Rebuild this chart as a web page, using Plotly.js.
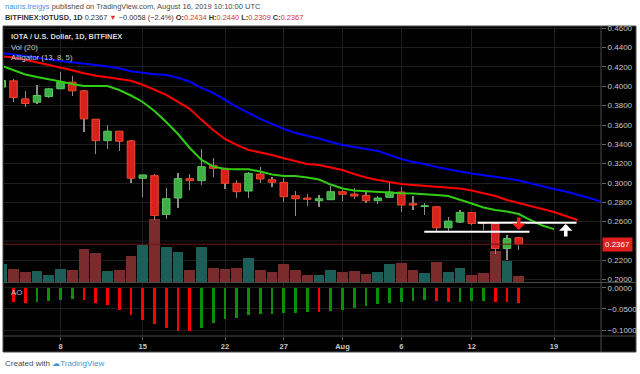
<!DOCTYPE html>
<html>
<head>
<meta charset="utf-8">
<script src="https://cdn.plot.ly/plotly-3.0.1.min.js"></script>
<style>
html,body{margin:0;padding:0;background:#fff;}
#chart{width:640px;height:374px;}
</style>
</head>
<body>
<div id="chart"></div>
<script>
// ---------- DATA ----------
const dates = ['2019-07-03','2019-07-04','2019-07-05','2019-07-06','2019-07-07','2019-07-08','2019-07-09','2019-07-10','2019-07-11','2019-07-12','2019-07-13','2019-07-14','2019-07-15','2019-07-16','2019-07-17','2019-07-18','2019-07-19','2019-07-20','2019-07-21','2019-07-22','2019-07-23','2019-07-24','2019-07-25','2019-07-26','2019-07-27','2019-07-28','2019-07-29','2019-07-30','2019-07-31','2019-08-01','2019-08-02','2019-08-03','2019-08-04','2019-08-05','2019-08-06','2019-08-07','2019-08-08','2019-08-09','2019-08-10','2019-08-11','2019-08-12','2019-08-13','2019-08-14','2019-08-15','2019-08-16'];
const futureDates = ['2019-08-17','2019-08-18','2019-08-19','2019-08-20','2019-08-21','2019-08-22','2019-08-23','2019-08-24'];

const openP  = [0.3992,0.4057,0.3870,0.3836,0.3894,0.3974,0.4043,0.3953,0.3660,0.3438,0.3536,0.3435,0.3049,0.3076,0.2675,0.2845,0.3045,0.3024,0.3179,0.3152,0.2997,0.2917,0.3093,0.3034,0.3007,0.2868,0.2845,0.2817,0.2827,0.2910,0.2886,0.2872,0.2817,0.2852,0.2907,0.2786,0.2758,0.2754,0.2537,0.2596,0.2696,0.2590,0.2582,0.2323,0.2434];
const highP  = [0.4075,0.4080,0.3953,0.4012,0.3980,0.4153,0.4102,0.3964,0.3663,0.3601,0.3540,0.3446,0.3085,0.3090,0.2948,0.3100,0.3093,0.3349,0.3256,0.3160,0.3031,0.3117,0.3163,0.3065,0.3049,0.2917,0.2886,0.2872,0.2969,0.2927,0.2945,0.2910,0.2865,0.2997,0.2962,0.2865,0.2796,0.2760,0.2644,0.2720,0.2700,0.2599,0.2585,0.2461,0.2440];
const lowP   = [0.3960,0.3842,0.3791,0.3822,0.3877,0.3970,0.3905,0.3532,0.3301,0.3349,0.3335,0.2997,0.2852,0.2617,0.2627,0.2738,0.2927,0.2979,0.3065,0.2935,0.2848,0.2848,0.3003,0.2962,0.2806,0.2658,0.2762,0.2755,0.2827,0.2817,0.2831,0.2796,0.2782,0.2841,0.2700,0.2720,0.2668,0.2495,0.2495,0.2590,0.2570,0.2513,0.2261,0.2202,0.2309];
const closeP = [0.4060,0.3884,0.3822,0.3905,0.3974,0.4043,0.3953,0.3663,0.3438,0.3536,0.3432,0.3049,0.3083,0.2665,0.2837,0.3045,0.3024,0.3169,0.3152,0.2997,0.2910,0.3100,0.3041,0.3007,0.2858,0.2837,0.2831,0.2837,0.2910,0.2883,0.2865,0.2817,0.2845,0.2907,0.2772,0.2772,0.2765,0.2537,0.2606,0.2696,0.2582,0.2585,0.2323,0.2425,0.2367];
const volume = [1.80,1.27,1.00,1.10,0.74,1.34,1.24,3.27,2.94,1.07,1.17,2.64,3.74,6.27,3.47,3.00,1.17,3.50,1.40,1.30,1.45,2.44,1.17,1.04,1.77,1.17,0.74,0.74,1.24,0.97,1.10,0.84,0.97,1.84,1.90,1.17,0.94,1.97,1.00,1.37,0.74,0.94,3.07,2.07,0.64];
const aoValues = [-0.0310,-0.0333,-0.0357,-0.0333,-0.0310,-0.0293,-0.0276,-0.0293,-0.0357,-0.0412,-0.0515,-0.0633,-0.0769,-0.0864,-0.0952,-0.1018,-0.1030,-0.0943,-0.0833,-0.0745,-0.0705,-0.0650,-0.0630,-0.0620,-0.0595,-0.0587,-0.0571,-0.0575,-0.0548,-0.0531,-0.0468,-0.0429,-0.0389,-0.0357,-0.0333,-0.0310,-0.0300,-0.0312,-0.0348,-0.0333,-0.0325,-0.0310,-0.0333,-0.0348,-0.0371];

// Alligator lines (already shifted forward: jaw +8, teeth +5, lips +3)
const jaw   = [0.4345,0.4330,0.4312,0.4295,0.4280,0.4262,0.4250,0.4236,0.4220,0.4205,0.4186,0.4155,0.4137,0.4126,0.4118,0.4088,0.4047,0.3984,0.3933,0.3860,0.3788,0.3725,0.3663,0.3611,0.3560,0.3518,0.3492,0.3461,0.3425,0.3394,0.3373,0.3352,0.3332,0.3290,0.3249,0.3218,0.3197,0.3166,0.3140,0.3119,0.3098,0.3083,0.3067,0.3047,0.3026,0.2995,0.2964,0.2938,0.2912,0.2881,0.2845,0.2808,0.2772];
const teeth = [0.4310,0.4298,0.4275,0.4249,0.4218,0.4192,0.4166,0.4135,0.4109,0.4093,0.4078,0.4057,0.4016,0.3964,0.3912,0.3839,0.3767,0.3653,0.3549,0.3456,0.3394,0.3342,0.3316,0.3290,0.3256,0.3223,0.3197,0.3187,0.3161,0.3135,0.3093,0.3057,0.3031,0.3010,0.2990,0.2979,0.2969,0.2959,0.2948,0.2943,0.2922,0.2896,0.2865,0.2824,0.2793,0.2767,0.2736,0.2700,0.2658,0.2617];
const lips  = [0.4212,0.4169,0.4122,0.4096,0.4075,0.4050,0.4024,0.4003,0.4003,0.4003,0.3962,0.3905,0.3838,0.3745,0.3631,0.3507,0.3362,0.3238,0.3171,0.3145,0.3142,0.3142,0.3119,0.3088,0.3073,0.3073,0.3057,0.3036,0.2984,0.2943,0.2922,0.2914,0.2907,0.2902,0.2893,0.2891,0.2886,0.2876,0.2865,0.2829,0.2788,0.2746,0.2720,0.2705,0.2679,0.2617,0.2560,0.2523];

const tickDates  = ['2019-07-08','2019-07-15','2019-07-22','2019-07-27','2019-08-01','2019-08-06','2019-08-12','2019-08-19'];
const tickLabels = ['8','15','22','27','Aug','6','12','19'];
// price scale labels visible in the picture (0.2400 is hidden behind the last-price tag)
const priceTicks = [0.46,0.44,0.42,0.40,0.38,0.36,0.34,0.32,0.30,0.28,0.26,0.22,0.20];
const priceGrid  = [0.46,0.44,0.42,0.40,0.38,0.36,0.34,0.32,0.30,0.28,0.26,0.24,0.22,0.20];
const aoTicks = [0, -0.05, -0.1];

// drawn annotations (horizontal levels and arrows)
const levelStart = ['2019-08-07 23:00','2019-08-12 12:00'];
const levelEnd   = ['2019-08-16 22:00','2019-08-20 22:00'];
const levelPrice = [0.2496, 0.2589];
const arrowDates = ['2019-08-16','2019-08-20'];
const arrowTips  = [0.2513, 0.2575];
const arrowDirs  = ['down','up'];

// ---------- BUILD ----------
const allLineDates = dates.concat(futureDates);
const UP = '#3daf45', UPB = '#5cc75f', DN = '#d8201c', DNB = '#ee4a2c';
const isUp = closeP.map((c,i)=> c >= openP[i]);
const day = 86400000;
const FONT = 'Liberation Sans, Arial, sans-serif';
const NARROW = 'Liberation Sans Narrow, Arial Narrow, Liberation Sans, sans-serif';

const traces = [];
traces.push({type:'bar', x:dates, y:volume, xaxis:'x', yaxis:'y', width:0.9*day,
  marker:{color:isUp.map(u=>u?'#1c5f58':'#7a2b2b'), line:{width:0}}, hoverinfo:'skip'});
traces.push({type:'bar', x:dates, base:lowP, y:highP.map((h,i)=>h-lowP[i]), xaxis:'x', yaxis:'y3', width:0.09*day,
  marker:{color:'#8c8c8c', line:{width:0}}, hoverinfo:'skip'});
traces.push({type:'bar', x:dates, base:openP.map((o,i)=>Math.min(o,closeP[i])), y:openP.map((o,i)=>Math.abs(closeP[i]-o)),
  xaxis:'x', yaxis:'y3', width:0.64*day,
  marker:{color:isUp.map(u=>u?UP:DN), line:{color:isUp.map(u=>u?UPB:DNB), width:1}}, hoverinfo:'skip'});
traces.push({type:'scatter', mode:'lines', x:allLineDates.slice(0,jaw.length), y:jaw, xaxis:'x', yaxis:'y3', line:{color:'#0000ff', width:2}, hoverinfo:'skip'});
traces.push({type:'scatter', mode:'lines', x:allLineDates.slice(0,teeth.length), y:teeth, xaxis:'x', yaxis:'y3', line:{color:'#ff0000', width:2}, hoverinfo:'skip'});
traces.push({type:'scatter', mode:'lines', x:allLineDates.slice(0,lips.length), y:lips, xaxis:'x', yaxis:'y3', line:{color:'#33cc14', width:2}, hoverinfo:'skip'});
const aoColors = aoValues.map((v,i)=> i===0 ? '#ff0000' : (v >= aoValues[i-1] ? '#0a8f0a' : '#ff0000'));
traces.push({type:'bar', x:dates, y:aoValues, xaxis:'x', yaxis:'y2', width:0.23*day,
  marker:{color:aoColors, line:{width:0}}, hoverinfo:'skip'});

const L=4, T=26, W=597, H=310;
const px = x => (x - L) / W;
const py = y => (T + H - y) / H;
const gridc = '#1e1e1e';

const shapes = [
  {type:'rect', xref:'paper', yref:'paper', x0:px(3), x1:px(636), y0:py(352), y1:py(26), fillcolor:'#000000', line:{color:'#4a4a4a', width:1}, layer:'below'}
];
priceGrid.filter(p=>priceTicks.indexOf(p)<0).forEach(p=>{
  shapes.push({type:'line', xref:'paper', yref:'y3', x0:0, x1:1, y0:p, y1:p, line:{color:gridc, width:1}, layer:'below'});
});
shapes.push(
  {type:'line', xref:'paper', yref:'paper', x0:1, x1:1, y0:py(352), y1:py(26), line:{color:'#4a4a4a', width:1}},
  {type:'line', xref:'paper', yref:'paper', x0:px(3), x1:px(636), y0:py(282.5), y1:py(282.5), line:{color:'#4a4a4a', width:1}},
  {type:'line', xref:'paper', yref:'paper', x0:px(3), x1:px(636), y0:0, y1:0, line:{color:'#4a4a4a', width:1}},
  {type:'line', xref:'paper', yref:'y3', x0:0, x1:1, y0:closeP[closeP.length-1], y1:closeP[closeP.length-1], line:{color:'#6e1616', width:1}}
);
levelPrice.forEach((p,i)=>{
  shapes.push({type:'line', xref:'x', yref:'y3', x0:levelStart[i], x1:levelEnd[i], y0:p, y1:p, line:{color:'#ffffff', width:2}});
});

const last = closeP.length-1;
const chg = closeP[last]-closeP[last-1];
const pct = chg/closeP[last-1]*100;
const RED = '#d8352d';
const fmt = v => (v<0?'\u2212':'') + Math.abs(v).toFixed(4);
const header2 = '<b>BITFINEX:IOTUSD, 1D</b> ' + closeP[last].toFixed(4) + ' <span style="color:'+RED+'">\u25BC</span> ' +
  fmt(chg) + ' (' + (pct<0?'\u2212':'') + Math.abs(pct).toFixed(1) + '%) ' +
  '<b>O:</b><span style="color:'+RED+'">'+openP[last].toFixed(4)+'</span> ' +
  '<b>H:</b><span style="color:'+RED+'">'+highP[last].toFixed(4)+'</span> ' +
  '<b>L:</b><span style="color:'+RED+'">'+lowP[last].toFixed(4)+'</span> ' +
  '<b>C:</b><span style="color:'+RED+'">'+closeP[last].toFixed(4)+'</span>';

const annotations = [
  {xref:'paper', yref:'paper', x:px(3), y:py(6.5), xanchor:'left', yanchor:'middle', showarrow:false,
   text:'<span style="color:#3a9ad9">nauris.treigys</span> published on TradingView.com, August 16, 2019 10:10:00 UTC',
   font:{family:FONT, size:7.5, color:'#4a4a4a'}},
  {xref:'paper', yref:'paper', x:px(3), y:py(17.5), xanchor:'left', yanchor:'middle', showarrow:false,
   text:header2, font:{family:NARROW, size:7.4, color:'#333333'}},
  {xref:'paper', yref:'paper', x:px(9), y:py(36.5), xanchor:'left', yanchor:'middle', showarrow:false,
   text:'<b>IOTA / U.S. Dollar, 1D, BITFINEX</b>', font:{family:FONT, size:7.4, color:'#d8d8d8'}},
  {xref:'paper', yref:'paper', x:px(9), y:py(47), xanchor:'left', yanchor:'middle', showarrow:false,
   text:'Vol (20)', font:{family:FONT, size:7.8, color:'#c8c8c8'}},
  {xref:'paper', yref:'paper', x:px(9), y:py(57.5), xanchor:'left', yanchor:'middle', showarrow:false,
   text:'Alligator (13, 8, 5)', font:{family:FONT, size:7.8, color:'#c8c8c8'}},
  {xref:'paper', yref:'paper', x:px(9), y:py(292), xanchor:'left', yanchor:'middle', showarrow:false,
   text:'AO', font:{family:FONT, size:7.8, color:'#c8c8c8'}},
  {xref:'paper', yref:'paper', x:px(3), y:py(363.5), xanchor:'left', yanchor:'middle', showarrow:false,
   text:'Created with <span style="color:#3a9ad9">\u2601</span><span style="color:#3a9ad9">TradingView</span>',
   font:{family:FONT, size:8, color:'#4a4a4a'}},
  {xref:'paper', yref:'y3', x:1, y:closeP[last], xanchor:'left', yanchor:'middle', showarrow:false,
   text:closeP[last].toFixed(4), font:{family:FONT, size:8, color:'#ffffff'}, bgcolor:'#e0201c', borderpad:2, xshift:1}
];
arrowDates.forEach((d,i)=>{
  const down = arrowDirs[i]==='down';
  annotations.push({xref:'x', yref:'y3', x:d, y:arrowTips[i], ax:0, ay: down ? -14 : 14, text:'',
    showarrow:true, arrowhead:1, arrowwidth:3.6, arrowsize:0.62, arrowcolor: down ? '#ff1a1a' : '#ffffff', standoff:0});
});

const layout = {
  width:640, height:374,
  margin:{l:L, r:640-L-W, t:T, b:374-T-H, pad:0},
  paper_bgcolor:'#ffffff', plot_bgcolor:'rgba(0,0,0,0)',
  showlegend:false, barmode:'overlay', bargap:0,
  font:{family:FONT},
  xaxis:{type:'date', range:['2019-07-03 04:36','2019-08-23 00:00'], anchor:'y2',
    tickmode:'array', tickvals:tickDates, ticktext:tickLabels,
    tickfont:{family:FONT, size:7.5, color:'#c8c8c8', weight:'bold'},
    ticks:'outside', ticklen:3, tickcolor:'#555555', showgrid:true, gridcolor:gridc, gridwidth:1,
    zeroline:false, showline:false, fixedrange:true},
  yaxis:{domain:[py(282),1], range:[0,25.6], visible:false, showgrid:false, zeroline:false, fixedrange:true},
  yaxis3:{overlaying:'y', side:'right', anchor:'x', range:[0.1976,0.4624], tickmode:'array', tickvals:priceTicks,
    tickformat:'.4f', tickfont:{family:FONT, size:8, color:'#c8c8c8'},
    ticks:'outside', ticklen:4, tickcolor:'#666666', showgrid:true, gridcolor:gridc, zeroline:false, showline:false, fixedrange:true},
  yaxis2:{domain:[0, py(283)], side:'right', anchor:'x', range:[-0.1139,0.0111],
    tickmode:'array', tickvals:aoTicks, tickformat:'.4f', tickfont:{family:FONT, size:8, color:'#c8c8c8'},
    ticks:'outside', ticklen:4, tickcolor:'#666666', showgrid:true, gridcolor:gridc, zeroline:false, showline:false, fixedrange:true},
  shapes:shapes,
  annotations:annotations
};

Plotly.newPlot('chart', traces, layout, {staticPlot:true, displayModeBar:false});
</script>
</body>
</html>
